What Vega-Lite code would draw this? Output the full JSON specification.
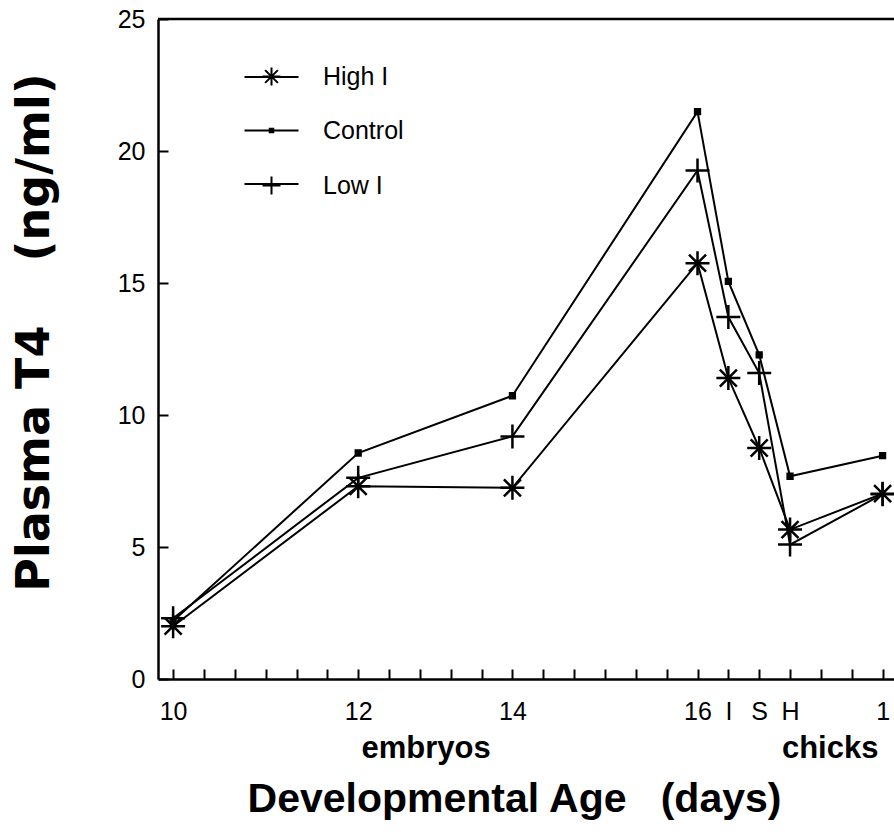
{
  "$schema": "https://vega.github.io/schema/vega-lite/v6.json",
  "width": 736,
  "height": 660,
  "autosize": {"type": "none"},
  "padding": {"left": 158, "top": 19, "right": 0, "bottom": 153},
  "background": "white",
  "config": {
    "view": {"stroke": null},
    "font": "Liberation Sans",
    "axis": {
      "grid": false,
      "domainColor": "black",
      "domainWidth": 2.5,
      "tickColor": "black",
      "tickWidth": 2,
      "tickSize": -10,
      "tickCount": 40,
      "labelColor": "black",
      "labelFont": "Liberation Sans",
      "labelFontSize": 25,
      "labelOverlap": false,
      "labelFlush": false,
      "titleColor": "black",
      "titleFont": "Liberation Sans",
      "titleFontSize": 41,
      "titleFontWeight": "bold"
    }
  },
  "datasets": {
    "t4": [
      {"group": "High I", "stage": 0, "t4": 2.0},
      {"group": "High I", "stage": 6, "t4": 7.3},
      {"group": "High I", "stage": 11, "t4": 7.24},
      {"group": "High I", "stage": 17, "t4": 15.75},
      {"group": "High I", "stage": 18, "t4": 11.4},
      {"group": "High I", "stage": 19, "t4": 8.75},
      {"group": "High I", "stage": 20, "t4": 5.66},
      {"group": "High I", "stage": 23, "t4": 7.02},
      {"group": "Control", "stage": 0, "t4": 2.2},
      {"group": "Control", "stage": 6, "t4": 8.56},
      {"group": "Control", "stage": 11, "t4": 10.73},
      {"group": "Control", "stage": 17, "t4": 21.49},
      {"group": "Control", "stage": 18, "t4": 15.06},
      {"group": "Control", "stage": 19, "t4": 12.28},
      {"group": "Control", "stage": 20, "t4": 7.68},
      {"group": "Control", "stage": 23, "t4": 8.46},
      {"group": "Low I", "stage": 0, "t4": 2.3},
      {"group": "Low I", "stage": 6, "t4": 7.62},
      {"group": "Low I", "stage": 11, "t4": 9.19},
      {"group": "Low I", "stage": 17, "t4": 19.26},
      {"group": "Low I", "stage": 18, "t4": 13.71},
      {"group": "Low I", "stage": 19, "t4": 11.59},
      {"group": "Low I", "stage": 20, "t4": 5.09},
      {"group": "Low I", "stage": 23, "t4": 7.0}
    ],
    "periods": [
      {"period": "embryos", "stage": 8.2, "level": -2.67},
      {"period": "chicks", "stage": 21.3, "level": -2.67}
    ]
  },
  "layer": [
    {
      "data": {"name": "t4"},
      "mark": {"type": "line", "strokeWidth": 2},
      "encoding": {
        "x": {
          "field": "stage",
          "type": "quantitative",
          "scale": {"domain": [-0.49, 23.37], "nice": false, "zero": false},
          "axis": {
            "values": [0, 1, 2, 3, 4, 5, 6, 7, 8, 9, 10, 11, 12, 13, 14, 15, 16, 17, 18, 19, 20, 21, 22, 23],
            "labelExpr": "datum.value == 0 ? '10' : datum.value == 6 ? '12' : datum.value == 11 ? '14' : datum.value == 17 ? '16' : datum.value == 18 ? 'I' : datum.value == 19 ? 'S' : datum.value == 20 ? 'H' : datum.value == 23 ? '1' : ''",
            "labelPadding": 30,
            "labelBaseline": "top",
            "title": "Developmental Age\u00a0\u00a0\u00a0(days)",
            "titleX": 356,
            "titleY": 120,
            "titleAlign": "center",
            "titleBaseline": "middle"
          }
        },
        "y": {
          "field": "t4",
          "type": "quantitative",
          "scale": {"domain": [0, 25], "nice": false},
          "axis": {
            "values": [0, 5, 10, 15, 20, 25],
            "format": "d",
            "labelPadding": 23,
            "title": "Plasma T4\u00a0\u00a0\u00a0\u00a0(ng/ml)",
            "titleFont": "DejaVu Sans",
            "titleFontSize": 46,
            "titleAngle": -90,
            "titleX": -124,
            "titleY": 313,
            "titleAlign": "center",
            "titleBaseline": "middle"
          }
        },
        "color": {
          "field": "group",
          "type": "nominal",
          "scale": {"domain": ["High I", "Control", "Low I"], "range": ["black", "black", "black"]},
          "legend": {
            "orient": "none",
            "legendX": 85.5,
            "legendY": 30,
            "title": null,
            "padding": 0,
            "symbolType": "stroke",
            "symbolSize": 2916,
            "symbolStrokeWidth": 2,
            "labelFont": "Liberation Sans",
            "labelFontSize": 25,
            "labelOpacity": 0,
            "labelOffset": 25.5,
            "rowPadding": 12.5
          }
        }
      }
    },
    {
      "data": {"name": "t4"},
      "mark": {"type": "point", "filled": false, "color": "black", "strokeWidth": 2.5, "size": 576, "opacity": 1},
      "encoding": {
        "x": {"field": "stage", "type": "quantitative"},
        "y": {"field": "t4", "type": "quantitative"},
        "shape": {
          "field": "group",
          "type": "nominal",
          "sort": ["High I", "Control", "Low I"],
          "scale": {
            "range": [
              "M-1,0L1,0M0,-1L0,1M-0.71,-0.71L0.71,0.71M-0.71,0.71L0.71,-0.71",
              "M-0.2,-0.2L0.2,-0.2L0.2,0.2L-0.2,0.2Z M-0.2,-0.07L0.2,-0.07 M-0.2,0.07L0.2,0.07",
              "M-1,0L1,0M0,-1L0,1"
            ]
          },
          "legend": {
            "orient": "none",
            "legendX": 101,
            "legendY": 45,
            "title": null,
            "padding": 0,
            "symbolSize": 324,
            "symbolStrokeWidth": 2,
            "symbolStrokeColor": "black",
            "symbolOpacity": 1,
            "labelFont": "Liberation Sans",
            "labelFontSize": 25,
            "labelColor": "black",
            "labelOffset": 39,
            "rowPadding": 28
          }
        }
      }
    },
    {
      "data": {"values": [{}]},
      "mark": {"type": "rule", "color": "black", "strokeWidth": 2.5},
      "encoding": {"y": {"datum": 25}}
    },
    {
      "data": {"name": "periods"},
      "mark": {"type": "text", "font": "Liberation Sans", "fontWeight": "bold", "fontSize": 31, "baseline": "middle", "align": "center", "color": "black"},
      "encoding": {
        "x": {"field": "stage", "type": "quantitative"},
        "y": {"field": "level", "type": "quantitative"},
        "text": {"field": "period"}
      }
    }
  ]
}
